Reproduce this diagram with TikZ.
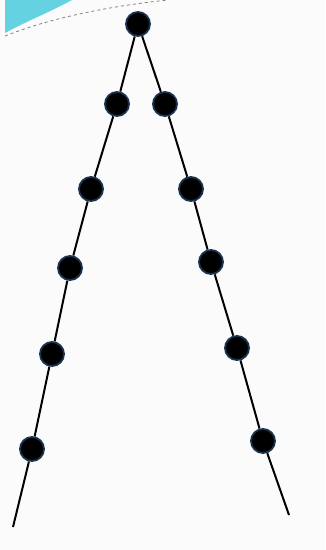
\documentclass[tikz,border=0pt]{standalone}
\definecolor{rim}{RGB}{25,50,80}
\definecolor{deco}{RGB}{100,210,225}
\begin{document}
\begin{tikzpicture}[x=1pt,y=-1pt,
  dot/.style={circle,fill=black,draw=rim,line width=1.8pt,minimum size=24pt,inner sep=0pt},
  stem/.style={line width=2pt,black}]
\fill[white!97!gray] (0,0) rectangle (325,550);
\useasboundingbox (0,0) rectangle (325,550);
% decoration top-left
\fill[deco] (5,0) -- (72,0) .. controls (50,12) and (25,22) .. (5,33) -- cycle;
\draw[gray,dashed,line width=0.8pt] (5,36) .. controls (50,18) and (110,6) .. (168,0);
% ends
\coordinate (lb) at (13,527);
\coordinate (rb) at (289,515);
\node[dot] (t) at (138,24) {};
\node[dot] (l1) at (117,104) {};
\node[dot] (l2) at (91,189) {};
\node[dot] (l3) at (70,268) {};
\node[dot] (l4) at (52,354) {};
\node[dot] (l5) at (32,449) {};
\node[dot] (r1) at (165,104) {};
\node[dot] (r2) at (191,189) {};
\node[dot] (r3) at (211,262) {};
\node[dot] (r4) at (237,348) {};
\node[dot] (r5) at (263,441) {};
\draw[stem] (t) -- (l1) -- (l2) -- (l3) -- (l4) -- (l5) -- (lb);
\draw[stem] (t) -- (r1) -- (r2) -- (r3) -- (r4) -- (r5) -- (rb);
\end{tikzpicture}
\end{document}
